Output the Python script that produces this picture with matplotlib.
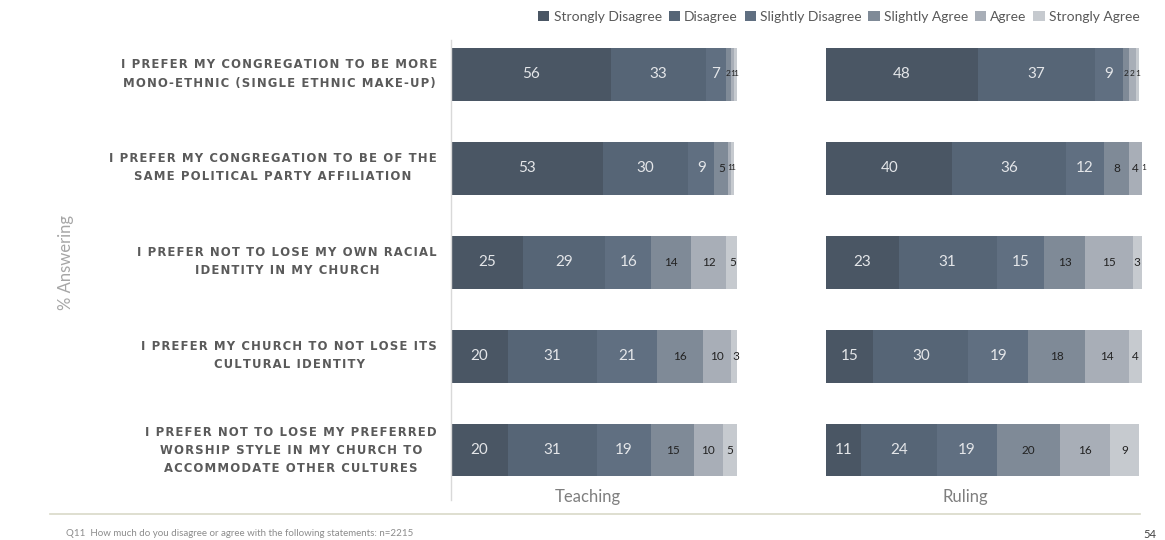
import matplotlib
matplotlib.use("Agg")
import matplotlib.pyplot as plt
from matplotlib.lines import Line2D
from matplotlib.patches import Patch
import numpy as np

W, H = 1165, 540

categories = [
    "I PREFER MY CONGREGATION TO BE MORE\nMONO-ETHNIC (SINGLE ETHNIC MAKE-UP)",
    "I PREFER MY CONGREGATION TO BE OF THE\nSAME POLITICAL PARTY AFFILIATION",
    "I PREFER NOT TO LOSE MY OWN RACIAL\nIDENTITY IN MY CHURCH",
    "I PREFER MY CHURCH TO NOT LOSE ITS\nCULTURAL IDENTITY",
    "I PREFER NOT TO LOSE MY PREFERRED\nWORSHIP STYLE IN MY CHURCH TO\nACCOMMODATE OTHER CULTURES",
]
series = ["Strongly Disagree", "Disagree", "Slightly Disagree",
          "Slightly Agree", "Agree", "Strongly Agree"]
colors = ["#4a5664", "#566576", "#606f81", "#7f8a97", "#a8aeb7", "#c6cacf"]

teaching = [
    [56, 33, 7, 2, 1, 1],
    [53, 30, 9, 5, 1, 1],
    [25, 29, 16, 14, 12, 5],
    [20, 31, 21, 16, 10, 3],
    [20, 31, 19, 15, 10, 5],
]
ruling = [
    [48, 37, 9, 2, 2, 1],
    [40, 36, 12, 8, 4, 1],
    [23, 31, 15, 13, 15, 3],
    [15, 30, 19, 18, 14, 4],
    [11, 24, 19, 20, 16, 9],
]
panels = ["Teaching", "Ruling"]

FONT = "Lato"

fig = plt.figure(figsize=(W / 100, H / 100), dpi=100)


def px_axes(x0, x1, y0, y1):
    return fig.add_axes([x0 / W, 1 - y1 / H, (x1 - x0) / W, (y1 - y0) / H])


row0, step = 74, 94
ytop, ybot = 40, 500
ylim = ((ybot - row0) / step, (ytop - row0) / step)
bar_h = 53 / step


def draw(ax, data):
    data = np.array(data, dtype=float)
    y = np.arange(len(data))
    left = np.zeros(len(data))
    for j in range(data.shape[1]):
        vals = data[:, j]
        ax.barh(y, vals, left=left, height=bar_h, color=colors[j], linewidth=0)
        for i, v in enumerate(vals):
            if j < 3:
                tc, fs = "#e4e6e9", 11
            else:
                tc, fs = "#222222", 8.5
            if v < 3:
                fs = 6
            ax.text(left[i] + v / 2, y[i], f"{int(v)}", ha="center", va="center",
                    color=tc, fontsize=fs, family=FONT)
        left += vals
    ax.set_xlim(0, 100)
    ax.set_ylim(*ylim)
    ax.set_xticks([])
    ax.set_yticks([])
    for s in ax.spines.values():
        s.set_visible(False)


ax1 = px_axes(451, 737, ytop, ybot)
draw(ax1, teaching)
ax1.spines["left"].set_visible(True)
ax1.spines["left"].set_color("#d9d9d9")
ax1.spines["left"].set_linewidth(1)

ax2 = px_axes(826, 1142, ytop, ybot)
draw(ax2, ruling)


def spaced(s):
    return "\n".join("\u200a".join(line) for line in s.split("\n"))


# category labels
for i, c in enumerate(categories):
    fig.text(437 / W, 1 - (row0 + step * i) / H, spaced(c), ha="right", va="center",
             multialignment="center", fontsize=8.4, fontweight="bold",
             color="#5a5a5a", family="DejaVu Sans", linespacing=1.5)

# panel labels
fig.text(588 / W, 1 - 497 / H, panels[0], ha="center", va="center",
         fontsize=12, color="#7f7f7f", family=FONT)
fig.text(965 / W, 1 - 497 / H, panels[1], ha="center", va="center",
         fontsize=12, color="#7f7f7f", family=FONT)

# y-axis title
fig.text(66 / W, 1 - 262 / H, "% Answering", rotation=90, ha="center", va="center",
         fontsize=12, color="#a6a6a6", family=FONT)

# bottom rule
fig.add_artist(Line2D([50 / W, 1140 / W], [1 - 514 / H, 1 - 514 / H],
                      color="#d9d9c8", linewidth=1.2, transform=fig.transFigure))

fig.text(66 / W, 1 - 534 / H,
         "Q11  How much do you disagree or agree with the following statements: n=2215",
         ha="left", va="center", fontsize=7, color="#8c8c8c", family=FONT)
fig.text(1150 / W, 1 - 534 / H, "54", ha="center", va="center",
         fontsize=8, color="#404040", family=FONT)

handles = [Patch(facecolor=c, edgecolor="none") for c in colors]
leg = fig.legend(handles, series, loc="upper right", bbox_to_anchor=(1152 / W, 1 + 2 / H),
                 ncol=6, frameon=False, handlelength=0.8, handleheight=0.8,
                 handletextpad=0.3, columnspacing=0.5,
                 prop={"family": FONT, "size": 10})
for t in leg.get_texts():
    t.set_color("#595959")

fig.savefig("out.png", dpi=100)
